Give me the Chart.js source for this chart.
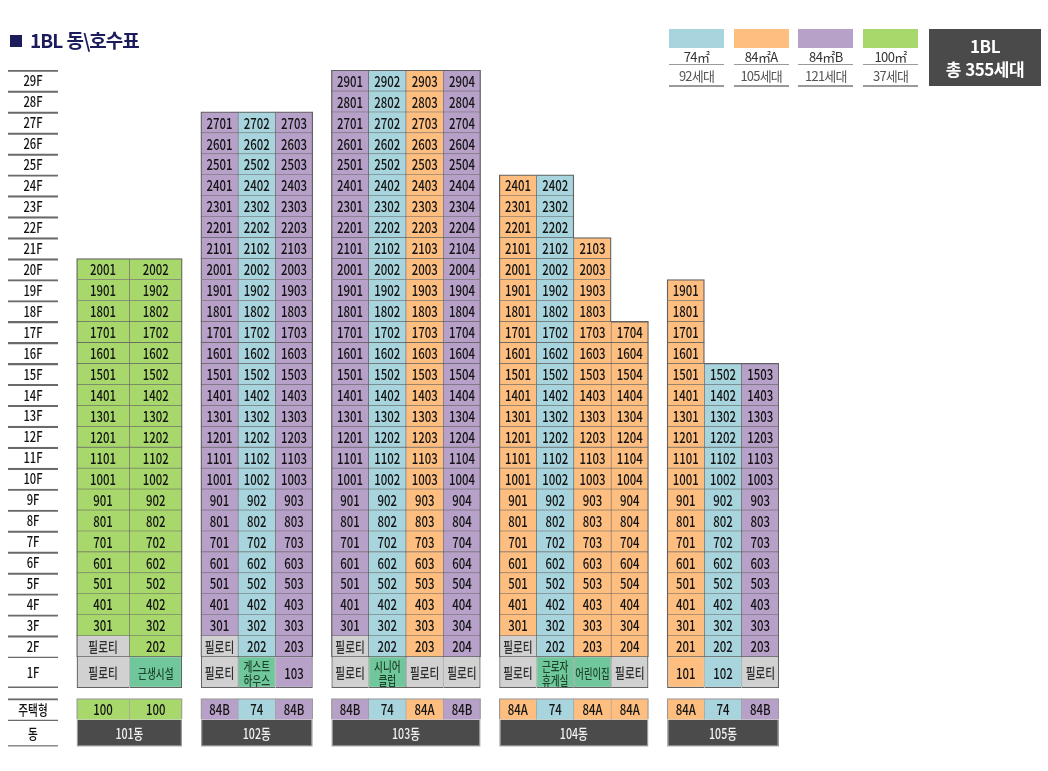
<!DOCTYPE html>
<html lang="ko">
<head>
<meta charset="utf-8">
<script src="https://cdn.jsdelivr.net/npm/chart.js@4.4.1/dist/chart.umd.min.js"></script>
<style>
  body { margin: 0; background: #fff; font-family: 'Noto Sans CJK KR', 'Noto Sans', sans-serif; }
  #wrap { position: relative; width: 1048px; height: 771px; overflow: hidden; }
  #chart { position: absolute; left: 0; top: 0; }
  #title { position: absolute; left: 10px; top: 26px; font-size: 19px; font-weight: bold; color: #1c1c5c; letter-spacing: -1px; white-space: nowrap; }
  #title .sq { display: inline-block; width: 12px; height: 12px; background: #1c1c5c; margin-right: 8px; vertical-align: 1px; }
  .lg { position: absolute; top: 29px; width: 55px; text-align: center; color: #333; }
  .lg .sw { height: 19px; }
  .lg .nm { height: 16px; line-height: 17px; font-size: 13px; letter-spacing: -0.6px; border-bottom: 1px solid #9a9a9a; }
  .lg .ct { height: 20px; line-height: 21px; font-size: 13px; letter-spacing: -0.8px; color: #555; border-bottom: 2px solid #9a9a9a; }
  #total { position: absolute; left: 929px; top: 29px; width: 112px; height: 57px; background: #4a4a4a; color: #fff; text-align: center; font-size: 17px; font-weight: bold; line-height: 23px; padding-top: 5px; box-sizing: border-box; letter-spacing: -0.5px; }
</style>
</head>
<body>
<div id="wrap">
  <canvas id="chart" width="1048" height="771"></canvas>
  <div id="title"><span class="sq"></span>1BL 동\호수표</div>
  <div id="legend"></div>
  <div id="total"></div>
</div>
<script>
// 동 / 라인별 주택형, 최고층
const blockName = '1BL';
const buildingNames = ['101동', '102동', '103동', '104동', '105동'];
const unitTypes = [
  ['100', '100'],
  ['84B', '74', '84B'],
  ['84B', '74', '84A', '84B'],
  ['84A', '74', '84A', '84A'],
  ['84A', '74', '84B']
];
const topFloors = [
  [20, 20],
  [27, 27, 27],
  [29, 29, 29, 29],
  [24, 24, 21, 17],
  [19, 15, 15]
];
// 2층, 1층 비주거 공간 (null 이면 세대)
const floor2Use = [
  ['필로티', null],
  ['필로티', null, null],
  ['필로티', null, null, null],
  ['필로티', null, null, null],
  [null, null, null]
];
const floor1Use = [
  ['필로티', '근생시설'],
  ['필로티', '게스트\n하우스', null],
  ['필로티', '시니어\n클럽', '필로티', '필로티'],
  ['필로티', '근로자\n휴게실', '어린이집', '필로티'],
  [null, null, '필로티']
];
const floorLabels = ['29F', '28F', '27F', '26F', '25F', '24F', '23F', '22F', '21F', '20F',
  '19F', '18F', '17F', '16F', '15F', '14F', '13F', '12F', '11F', '10F',
  '9F', '8F', '7F', '6F', '5F', '4F', '3F', '2F', '1F'];
const typeRowLabel = '주택형';
const dongRowLabel = '동';
// 범례
const typeKeys = ['74', '84A', '84B', '100'];
const typeNames = ['74㎡', '84㎡A', '84㎡B', '100㎡'];
const typeCounts = [92, 105, 121, 37];

// 색상
const typeColors = { '74': '#a8d4dd', '84A': '#fdbe80', '84B': '#b7a1c9', '100': '#a8d86b' };
const kindFill = { pilotis: '#d1d1d1', facility: '#6fc79b', label: 'rgba(0,0,0,0)', dong: '#4b4b4b' };
const kindText = { unit: '#141414', pilotis: '#2e2e2e', facility: '#1d4229', label: '#111111', dong: '#f2f2f2' };
const FONT = "'Noto Sans CJK KR', 'Noto Sans', sans-serif";

// 배치 (x 단위 = 한 라인 폭)
const LABEL_W = 1.34, GAP = 0.5;
const colWidths = [1.415, 1, 1, 1, 1];
const TYPE_ROW = -1, DONG_ROW = -2.15;
const rowCenter = f => (f >= 2 ? f : 0.75);   // 1층은 1.5칸 높이

let cursor = LABEL_W + GAP;
const buildingX = buildingNames.map((_, b) => {
  const x0 = cursor;
  cursor += unitTypes[b].length * colWidths[b] + GAP;
  return x0;
});
const X_MAX = cursor - GAP;

const regular = [], firstFloor = [], dongRow = [];
floorLabels.forEach(lab => {
  const f = parseInt(lab, 10);
  (f === 1 ? firstFloor : regular).push({ x: [0, LABEL_W], y: rowCenter(f), kind: 'label', text: lab, f });
});
regular.push({ x: [0, LABEL_W], y: TYPE_ROW, kind: 'label', text: typeRowLabel, row: 'type' });
dongRow.push({ x: [0, LABEL_W], y: DONG_ROW, kind: 'label', text: dongRowLabel, row: 'dong' });

buildingNames.forEach((name, b) => {
  const w = colWidths[b];
  unitTypes[b].forEach((t, c) => {
    const x0 = buildingX[b] + c * w;
    for (let f = 1; f <= topFloors[b][c]; f++) {
      const use = f === 1 ? floor1Use[b][c] : (f === 2 ? floor2Use[b][c] : null);
      const kind = use === null ? 'unit' : (use === '필로티' ? 'pilotis' : 'facility');
      const text = use === null ? String(f * 100 + c + 1) : use;
      (f === 1 ? firstFloor : regular).push({ x: [x0, x0 + w], y: rowCenter(f), kind, text, type: t, b, c, f });
    }
    regular.push({ x: [x0, x0 + w], y: TYPE_ROW, kind: 'unit', text: t, type: t, b, c, row: 'type' });
  });
  dongRow.push({ x: [buildingX[b], buildingX[b] + unitTypes[b].length * w], y: DONG_ROW, kind: 'dong', text: name, b, row: 'dong' });
});

const INNER = 0.6, OUTER = 1.3;
function edges(p) {
  if (p.kind === 'label') {
    const closes = p.f === 1 || p.row === 'dong';
    return { top: 1.5, bottom: closes ? 1.5 : 0, left: 0, right: 0 };
  }
  if (p.row === 'dong') return { top: 0, bottom: OUTER, left: OUTER, right: OUTER };
  const tops = topFloors[p.b];
  const last = tops.length - 1;
  if (p.row === 'type') {
    return { top: OUTER, bottom: 0, left: p.c === 0 ? OUTER : INNER, right: p.c === last ? OUTER : INNER };
  }
  return {
    top: p.f === tops[p.c] ? OUTER : INNER,
    bottom: p.f === 1 ? OUTER : INNER,
    left: p.c === 0 || tops[p.c - 1] < p.f ? OUTER : INNER,
    right: p.c === last || tops[p.c + 1] < p.f ? OUTER : INNER
  };
}
function fillOf(p) {
  if (p.kind === 'unit') return typeColors[p.type];
  return kindFill[p.kind];
}
function borderOf(p) {
  if (p.kind === 'label') return '#6a6a6a';
  if (p.row === 'dong' || p.row === 'type') return '#9a9a9a';
  return '#626262';
}

function makeDataset(data, sizeRatio) {
  return {
    data,
    grouped: false,
    categoryPercentage: 1,
    barPercentage: sizeRatio,
    borderSkipped: false,
    backgroundColor: ctx => (ctx.raw ? fillOf(ctx.raw) : 'transparent'),
    borderColor: ctx => (ctx.raw ? borderOf(ctx.raw) : 'transparent'),
    borderWidth: ctx => (ctx.raw ? edges(ctx.raw) : 0)
  };
}

const rowCenters = floorLabels.map(l => rowCenter(parseInt(l, 10))).concat([TYPE_ROW, DONG_ROW]);

// 셀 글자
const cellText = {
  id: 'cellText',
  afterDatasetsDraw(chart) {
    const ctx = chart.ctx;
    chart.data.datasets.forEach((ds, i) => {
      chart.getDatasetMeta(i).data.forEach((bar, j) => {
        const p = ds.data[j];
        const c = bar.getCenterPoint();
        const cellW = Math.abs(bar.x - bar.base);
        const lines = p.text.split('\n');
        const hangul = /[\uac00-\ud7a3]/.test(p.text);
        let size = hangul ? 14 : 15;
        let sx = hangul ? 0.76 : 0.76;
        if (p.kind === 'facility') { size = 13; sx = 0.74; }
        if (p.kind === 'label' && !hangul) { size = 14; sx = 0.8; }
        ctx.save();
        ctx.font = '500 ' + size + 'px ' + FONT;
        ctx.fillStyle = kindText[p.kind];
        ctx.textAlign = 'center';
        ctx.textBaseline = 'middle';
        const widest = Math.max(...lines.map(l => ctx.measureText(l).width));
        if (widest * sx > cellW - 3) sx = (cellW - 3) / widest;
        const lh = 14;
        lines.forEach((l, k) => {
          const y = c.y + (k - (lines.length - 1) / 2) * lh + 0.5;
          ctx.save();
          ctx.translate(c.x, y);
          ctx.scale(sx, 1);
          ctx.fillText(l, 0, 0);
          ctx.restore();
        });
        ctx.restore();
      });
    });
  }
};

new Chart(document.getElementById('chart'), {
  type: 'bar',
  data: {
    datasets: [
      makeDataset(regular, 1),
      makeDataset(firstFloor, 1.5),
      makeDataset(dongRow, 1.3)
    ]
  },
  options: {
    indexAxis: 'y',
    responsive: false,
    animation: false,
    layout: { padding: { left: 8, right: 269, top: 70, bottom: 24.3 } },
    scales: {
      x: { type: 'linear', min: 0, max: X_MAX, display: false, offset: false },
      y: {
        type: 'linear', min: -2.8, max: 29.5, display: false, offset: false,
        afterBuildTicks: axis => { axis.ticks = rowCenters.map(v => ({ value: v })); }
      }
    },
    plugins: { legend: { display: false }, tooltip: { enabled: false } }
  },
  plugins: [cellText]
});

// 범례
const legendBox = document.getElementById('legend');
typeKeys.forEach((k, i) => {
  const item = document.createElement('div');
  item.className = 'lg';
  item.style.left = (669 + i * 64.7) + 'px';
  item.innerHTML = '<div class="sw" style="background:' + typeColors[k] + '"></div>' +
    '<div class="nm">' + typeNames[i] + '</div>' +
    '<div class="ct">' + typeCounts[i] + '세대</div>';
  legendBox.appendChild(item);
});
const total = typeCounts.reduce((a, b) => a + b, 0);
document.getElementById('total').innerHTML = blockName + '<br>총 ' + total + '세대';
</script>
</body>
</html>
